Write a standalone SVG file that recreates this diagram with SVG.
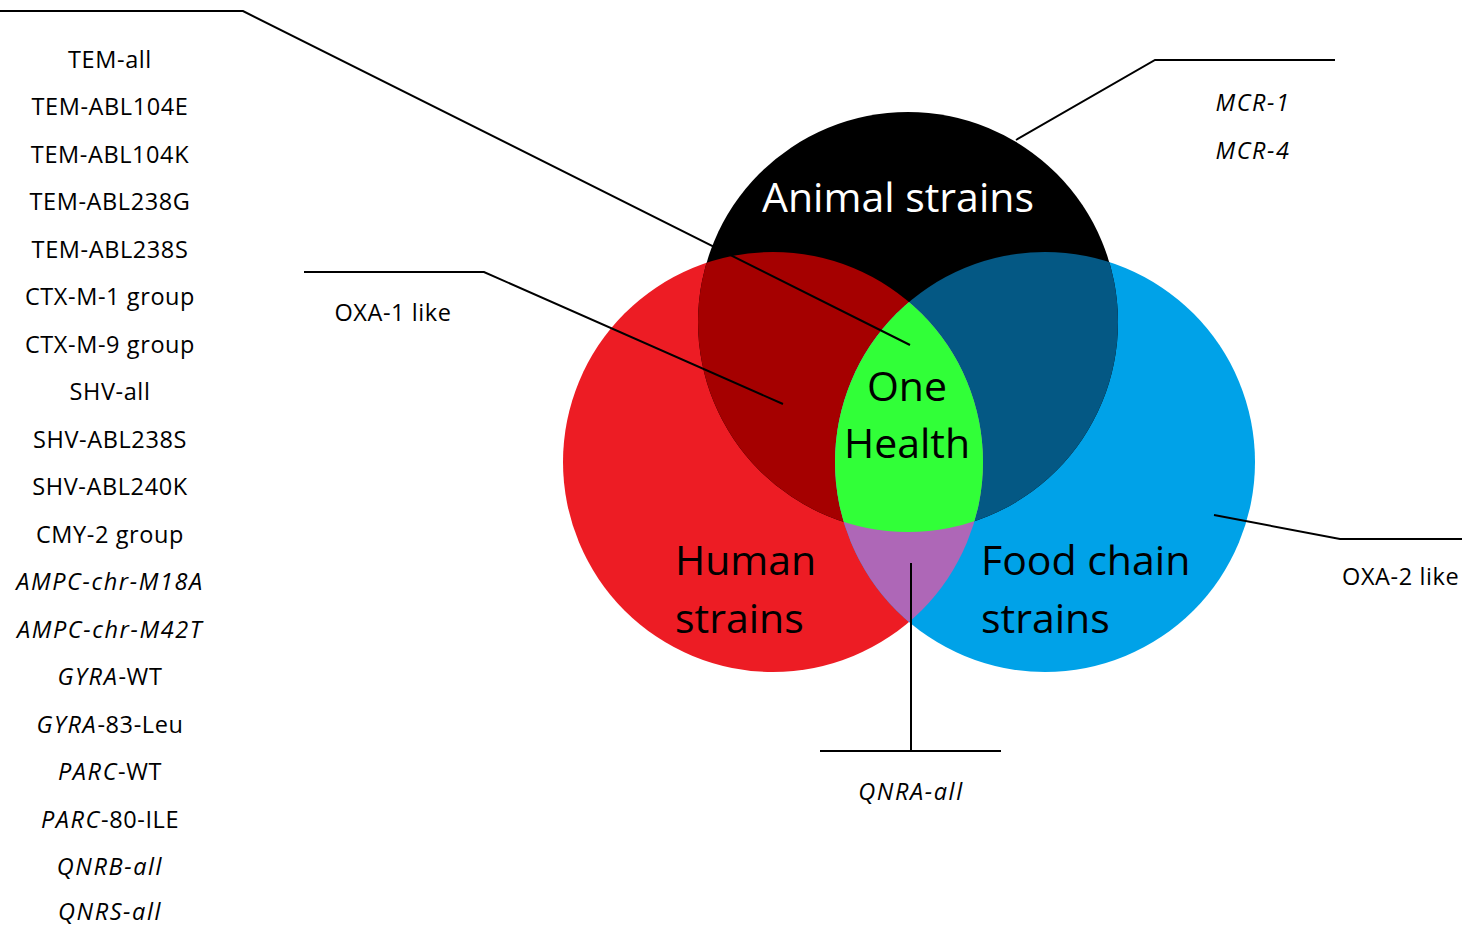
<svg xmlns="http://www.w3.org/2000/svg" width="1462" height="926" viewBox="0 0 1462 926">
<style>
.t{font-family:"Open Sans","Noto Sans","Liberation Sans",sans-serif;font-size:23.5px;letter-spacing:0.6px;fill:#000}
.l{text-anchor:middle}
.i{font-style:italic;letter-spacing:1.6px}
.big{font-family:"Open Sans","Noto Sans","Liberation Sans",sans-serif;font-size:41px}
.ln{fill:none;stroke:#000;stroke-width:2}
</style>
<defs>
<clipPath id="cR"><circle cx="773" cy="462" r="210"/></clipPath>
<clipPath id="cB"><circle cx="1045" cy="462" r="210"/></clipPath>
<clipPath id="cK"><circle cx="908" cy="322" r="210"/></clipPath>
</defs>
<rect width="1462" height="926" fill="#fff"/>
<g id="human"><circle cx="773" cy="462" r="210" fill="#ed1c24"/></g>
<g id="food"><circle cx="1045" cy="462" r="210" fill="#00a2e8"/></g>
<g id="animal"><circle cx="908" cy="322" r="210" fill="#000"/></g>
<g id="human-animal"><circle cx="908" cy="322" r="210" fill="#a50000" clip-path="url(#cR)"/></g>
<g id="animal-food"><circle cx="908" cy="322" r="210" fill="#045884" clip-path="url(#cB)"/></g>
<g id="human-food"><circle cx="1045" cy="462" r="210" fill="#ae67b7" clip-path="url(#cR)"/></g>
<g id="onehealth"><g clip-path="url(#cR)"><circle cx="1045" cy="462" r="210" fill="#31ff38" clip-path="url(#cK)"/></g></g>
<g id="labels">
<text class="big l" x="898" y="212" fill="#fff">Animal strains</text>
<text class="big l" x="907" y="401">One</text>
<text class="big l" x="907" y="458">Health</text>
<text class="big" x="675" y="575">Human</text>
<text class="big" x="675" y="633">strains</text>
<text class="big" x="981" y="575">Food chain</text>
<text class="big" x="981" y="633">strains</text>
</g>
<g id="connectors">
<polyline class="ln" points="0,11 243,11 910,345"/>
<polyline class="ln" points="304,272 484,272 783,404"/>
<polyline class="ln" points="1016,140 1155,60 1335,60"/>
<polyline class="ln" points="1214,515 1340,539 1462,539"/>
<polyline class="ln" points="911,563 911,751"/>
<polyline class="ln" points="820,751 1001,751"/>
</g>
<g id="list-left">
<text class="t l" x="110" y="68">TEM-all</text>
<text class="t l" x="110" y="115">TEM-ABL104E</text>
<text class="t l" x="110" y="163">TEM-ABL104K</text>
<text class="t l" x="110" y="210">TEM-ABL238G</text>
<text class="t l" x="110" y="258">TEM-ABL238S</text>
<text class="t l" x="110" y="305">CTX-M-1 group</text>
<text class="t l" x="110" y="353">CTX-M-9 group</text>
<text class="t l" x="110" y="400">SHV-all</text>
<text class="t l" x="110" y="448">SHV-ABL238S</text>
<text class="t l" x="110" y="495">SHV-ABL240K</text>
<text class="t l" x="110" y="543">CMY-2 group</text>
<text class="t l i" x="110" y="590">AMPC-chr-M18A</text>
<text class="t l i" x="110" y="638">AMPC-chr-M42T</text>
<text class="t l" x="110" y="685"><tspan class="i">GYRA</tspan>-WT</text>
<text class="t l" x="110" y="733"><tspan class="i">GYRA</tspan>-83-Leu</text>
<text class="t l" x="110" y="780"><tspan class="i">PARC</tspan>-WT</text>
<text class="t l" x="110" y="828"><tspan class="i">PARC</tspan>-80-ILE</text>
<text class="t l i" x="110" y="875">QNRB-all</text>
<text class="t l i" x="110" y="920">QNRS-all</text>
</g>
<g id="gene-labels">
<text class="t l i" x="1253" y="111">MCR-1</text>
<text class="t l i" x="1253" y="159">MCR-4</text>
<text class="t l" x="393" y="321">OXA-1 like</text>
<text class="t" x="1342" y="585">OXA-2 like</text>
<text class="t l i" x="911" y="800">QNRA-all</text>
</g>
</svg>
